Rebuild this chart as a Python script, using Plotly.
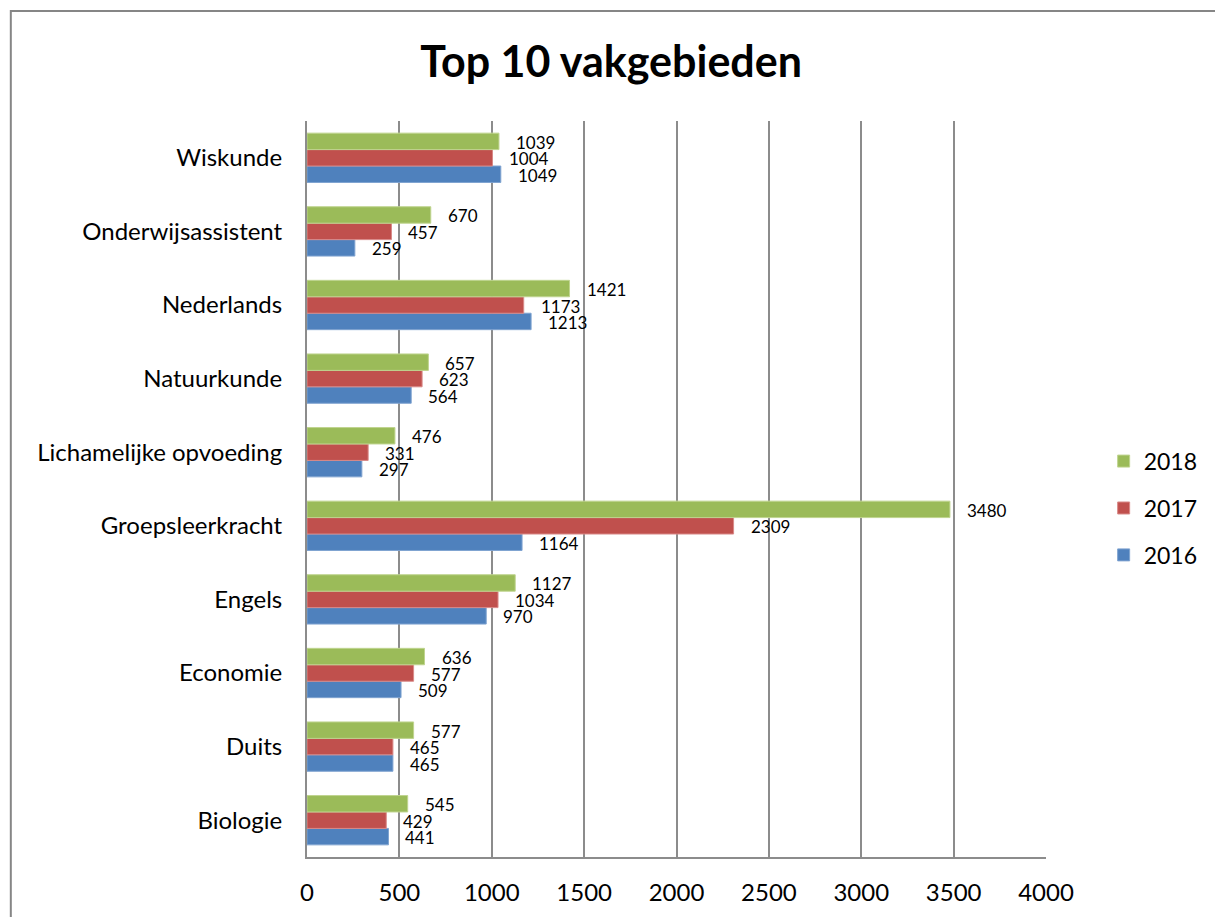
import plotly.graph_objects as go

categories = ["Biologie", "Duits", "Economie", "Engels", "Groepsleerkracht",
              "Lichamelijke opvoeding", "Natuurkunde", "Nederlands",
              "Onderwijsassistent", "Wiskunde"]
v2016 = [441, 465, 509, 970, 1164, 297, 564, 1213, 259, 1049]
v2017 = [429, 465, 577, 1034, 2309, 331, 623, 1173, 457, 1004]
v2018 = [545, 577, 636, 1127, 3480, 476, 657, 1421, 670, 1039]
series = [("2016", v2016, "#4F81BD", "#7FA3D0"),
          ("2017", v2017, "#C0504D", "#D98A88"),
          ("2018", v2018, "#9BBB59", "#BFD48F")]
legend_rank = {"2018": 1, "2017": 2, "2016": 3}
x_ticks = [0, 500, 1000, 1500, 2000, 2500, 3000, 3500, 4000]

FONT = "Lato, 'Liberation Sans', sans-serif"

fig = go.Figure()
for name, vals, col, edge in series:
    fig.add_trace(go.Bar(
        y=categories, x=vals, name=name, orientation="h",
        marker=dict(color=col, line=dict(color=edge, width=1)),
        legendgroup=name, legendrank=legend_rank[name],
    ))

# data labels
bar_px = 16.5
shifts = {"2016": -bar_px, "2017": 0, "2018": bar_px}
for name, vals, col, edge in series:
    for c, v in zip(categories, vals):
        fig.add_annotation(x=v, y=c, text=str(v), showarrow=False,
                           xanchor="left", yanchor="middle",
                           xshift=15, yshift=shifts[name] - 1,
                           font=dict(family=FONT, size=17, color="#000000"))

# outer frame
fig.add_shape(type="rect", xref="paper", yref="paper",
              x0=-0.4008, x1=1.26, y0=-0.11, y1=1.1495,
              line=dict(color="#868686", width=2), fillcolor="rgba(0,0,0,0)")

fig.update_layout(
    width=1215, height=917,
    margin=dict(l=307, r=167, t=121, b=60),
    paper_bgcolor="white", plot_bgcolor="white",
    barmode="group", bargap=0.33, bargroupgap=0,
    font=dict(family=FONT, color="#000000"),
    title=dict(text="<b>Top 10 vakgebieden</b>", x=0.503, xanchor="center",
               y=0.932, yanchor="middle",
               font=dict(family=FONT, size=43, color="#000000")),
    legend=dict(x=1.078, y=0.474, xanchor="left", yanchor="middle",
                traceorder="grouped", tracegroupgap=14,
                font=dict(family=FONT, size=23), itemwidth=30,
                bgcolor="rgba(0,0,0,0)"),
    showlegend=True,
)
fig.update_xaxes(range=[0, 4000], tickvals=x_ticks, ticktext=[str(t) for t in x_ticks],
                 showgrid=True, gridcolor="#8C8C8C", gridwidth=2,
                 showline=True, linecolor="#8C8C8C", linewidth=2,
                 zeroline=False, ticks="", ticklabelstandoff=13,
                 tickfont=dict(family=FONT, size=24), fixedrange=True)
fig.update_yaxes(showgrid=False, showline=True, linecolor="#8C8C8C", linewidth=2,
                 ticks="", ticklabelstandoff=18,
                 tickfont=dict(family=FONT, size=24), fixedrange=True)

fig.write_html("out.html", config={"displayModeBar": False},
               post_script="document.body.style.margin='0';")
